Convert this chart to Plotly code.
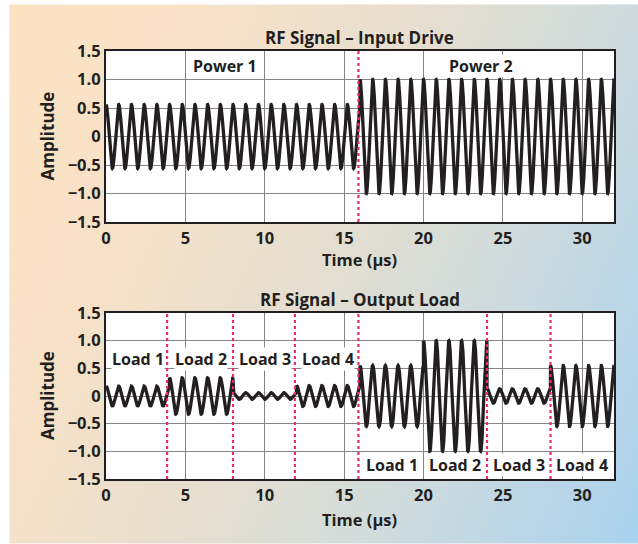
import numpy as np
import plotly.graph_objects as go

# ---------------- data ----------------
FREQ_MHZ = 1.25                       # RF carrier frequency (period 0.8 us)
T_MAX = 32.0

input_seg_start = [0.0, 16.0]
input_seg_amp = [0.56, 1.0]
input_labels = ["Power 1", "Power 2"]
input_label_x = [7.5, 23.6]
input_markers = [15.9]

output_seg_start = [0.0, 4.0, 8.0, 12.0, 16.0, 20.0, 24.0, 28.0]
output_seg_amp = [0.18, 0.33, 0.06, 0.19, 0.55, 1.0, 0.13, 0.55]
output_labels = ["Load 1", "Load 2", "Load 3", "Load 4",
                 "Load 1", "Load 2", "Load 3", "Load 4"]
output_label_x = [2, 6, 10, 14, 18, 22, 26, 30]
output_label_y = [0.67, 0.67, 0.67, 0.67, -1.24, -1.24, -1.24, -1.24]
output_markers = [3.85, 8.0, 11.9, 15.9, 24.0, 28.0]

x_ticks = [0, 5, 10, 15, 20, 25, 30]
y_tickvals = [-1.5, -1.0, -0.5, 0, 0.5, 1.0, 1.5]
y_ticktext = ["\u22121.5", "\u22121.0", "\u22120.5", "0", "0.5", "1.0", "1.5"]

titles = ["RF Signal \u2013 Input Drive", "RF Signal \u2013 Output Load"]

# backdrop gradient stops (position along gradient, colour)
grad_pos = [0.0, 0.25, 0.5, 0.68, 0.86, 1.0]
grad_col = ["#FDE2C2", "#F6E1C8", "#E4DED0", "#D2DCDB", "#BBD6E6", "#A9D2EE"]
GRAD_WX, GRAD_WY = 0.72, 0.28        # gradient direction weights (horizontal, vertical)


def waveform(starts, amps):
    t = np.linspace(0, T_MAX, 8001)
    idx = np.searchsorted(np.array(starts), t, side="right") - 1
    a = np.array(amps)[idx]
    return t, a * np.cos(2 * np.pi * FREQ_MHZ * t)


def hex2rgb(h):
    return np.array([int(h[i:i + 2], 16) for i in (1, 3, 5)], dtype=float)


def grad_color(u):
    cols = np.array([hex2rgb(c) for c in grad_col])
    rgb = [np.interp(u, grad_pos, cols[:, k]) for k in range(3)]
    return "rgb(%d,%d,%d)" % tuple(int(round(v)) for v in rgb)


def clip(poly, sign, s):
    # keep points where sign*(wx*a+wy*b) <= sign*s
    out = []
    n = len(poly)
    f = lambda p: sign * (GRAD_WX * p[0] + GRAD_WY * p[1] - s)
    for i in range(n):
        p, q = poly[i], poly[(i + 1) % n]
        fp, fq = f(p), f(q)
        if fp <= 0:
            out.append(p)
        if (fp < 0 < fq) or (fq < 0 < fp):
            r = fp / (fp - fq)
            out.append((p[0] + r * (q[0] - p[0]), p[1] + r * (q[1] - p[1])))
    return out


W, H = 638, 544
FONT = "Open Sans"
INK = "#231F20"
PINK = "#EC2A6E"
GRID = "#858585"

px_l, px_r = 106, 614
boxes = [(51, 222), (313, 479)]

fig = go.Figure()

t1, y1 = waveform(input_seg_start, input_seg_amp)
t2, y2 = waveform(output_seg_start, output_seg_amp)
fig.add_trace(go.Scatter(x=t1, y=y1, mode="lines", xaxis="x", yaxis="y",
                         line=dict(color=INK, width=3.3), hoverinfo="skip"))
fig.add_trace(go.Scatter(x=t2, y=y2, mode="lines", xaxis="x2", yaxis="y2",
                         line=dict(color=INK, width=3.3), hoverinfo="skip"))

xdom = [px_l / W, px_r / W]
ydoms = [[1 - b / H, 1 - t / H] for (t, b) in boxes]

axis_common = dict(showline=True, mirror=True, linecolor=INK, linewidth=2,
                   showgrid=True, gridcolor=GRID, gridwidth=1,
                   zeroline=False, ticks="", automargin=False, fixedrange=True,
                   tickfont=dict(family=FONT, size=16.5, color=INK, weight="bold"))

fig.update_layout(
    template="none",
    width=W, height=H,
    margin=dict(l=0, r=0, t=0, b=0, pad=0),
    paper_bgcolor="white",
    plot_bgcolor="rgba(0,0,0,0)",
    showlegend=False,
    hovermode=False,
    xaxis=dict(domain=xdom, anchor="y", range=[0, T_MAX], tickvals=x_ticks, **axis_common),
    yaxis=dict(domain=ydoms[0], anchor="x", range=[-1.5, 1.5],
               tickvals=y_tickvals, ticktext=y_ticktext, **axis_common),
    xaxis2=dict(domain=xdom, anchor="y2", range=[0, T_MAX], tickvals=x_ticks, **axis_common),
    yaxis2=dict(domain=ydoms[1], anchor="x2", range=[-1.5, 1.5],
                tickvals=y_tickvals, ticktext=y_ticktext, **axis_common),
)

# gradient backdrop as bands (box from x=10..638, y=5..543 px)
bx0, by0, bw, bh = 10, 5, 628, 538
NB = 100
shapes = []
for k in range(NB):
    s0, s1 = k / NB, (k + 1) / NB
    poly = [(0, 0), (1, 0), (1, 1), (0, 1)]
    poly = clip(poly, -1, s0)
    poly = clip(poly, 1, s1)
    if len(poly) < 3:
        continue
    pts = [((bx0 + a * bw) / W, 1 - (by0 + b * bh) / H) for a, b in poly]
    path = "M " + " L ".join("%.5f,%.5f" % p for p in pts) + " Z"
    col = grad_color((s0 + s1) / 2.0)
    shapes.append(dict(type="path", xref="paper", yref="paper", path=path,
                       fillcolor=col, line=dict(color=col, width=1), layer="below"))
# white plot areas
for xr, yr in [("x domain", "y domain"), ("x2 domain", "y2 domain")]:
    shapes.append(dict(type="rect", xref=xr, yref=yr, x0=0, x1=1, y0=0, y1=1,
                       fillcolor="white", line=dict(width=0), layer="below"))
# dotted markers
for xm in input_markers:
    shapes.append(dict(type="line", xref="x", yref="y domain", x0=xm, x1=xm, y0=0, y1=1,
                       line=dict(color=PINK, width=2.2, dash="dot"), layer="above"))
for xm in output_markers:
    shapes.append(dict(type="line", xref="x2", yref="y2 domain", x0=xm, x1=xm, y0=0, y1=1,
                       line=dict(color=PINK, width=2.2, dash="dot"), layer="above"))
fig.update_layout(shapes=shapes)

lab_font = dict(family=FONT, size=16, color=INK, weight="bold")
for txt, xv in zip(input_labels, input_label_x):
    fig.add_annotation(x=xv, y=1.24, xref="x", yref="y", text=txt, showarrow=False,
                       font=lab_font, bgcolor="white", borderpad=0)
for txt, xv, yv in zip(output_labels, output_label_x, output_label_y):
    fig.add_annotation(x=xv, y=yv, xref="x2", yref="y2", text=txt, showarrow=False,
                       font=lab_font, bgcolor="white", borderpad=0)

title_font = dict(family=FONT, size=17, color=INK, weight="bold")
axt_font = dict(family=FONT, size=16.5, color=INK, weight="bold")
cx = (px_l + px_r) / 2 / W
for txt, ypx in zip(titles, [38, 299]):
    fig.add_annotation(x=cx, y=1 - ypx / H, xref="paper", yref="paper", text=txt,
                       showarrow=False, font=title_font, yanchor="middle")
for ypx in [259, 519]:
    fig.add_annotation(x=cx, y=1 - ypx / H, xref="paper", yref="paper", text="Time (\u03bcs)",
                       showarrow=False, font=axt_font, yanchor="middle")
for (tp, bt) in boxes:
    fig.add_annotation(x=47 / W, y=1 - (tp + bt) / 2 / H, xref="paper", yref="paper",
                       text="Amplitude", textangle=-90, showarrow=False,
                       font=title_font, xanchor="center", yanchor="middle")

fig.write_html("out.html",
               config={"displayModeBar": False, "staticPlot": True},
               post_script="document.body.style.margin='0';document.body.style.padding='0';")
